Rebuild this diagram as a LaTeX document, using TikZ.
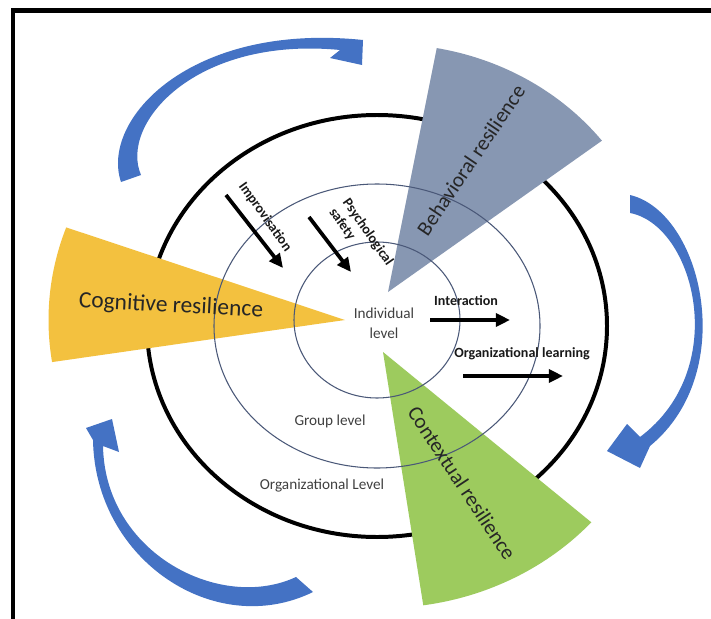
\documentclass[tikz,border=0pt]{standalone}
\usepackage{fontspec}
\setmainfont{Carlito}
\usetikzlibrary{arrows.meta, positioning, calc}
\definecolor{cogfill}{HTML}{F3C13F}
\definecolor{behfill}{HTML}{8797B2}
\definecolor{ctxfill}{HTML}{9DCB5E}
\definecolor{loopblue}{HTML}{4472C4}
\definecolor{ringline}{HTML}{4A5878}
\definecolor{labeltext}{HTML}{404040}
\tikzset{
  wedgelabel/.style={font=\fontsize{18}{20}\selectfont, text=black!85, inner sep=0pt},
  levellabel/.style={font=\fontsize{13}{17}\selectfont, text=labeltext, align=center, inner sep=0pt},
  flowlabel/.style={font=\bfseries\fontsize{12}{14}\selectfont, text=black!90, inner sep=0pt},
  outerring/.style={draw=black, line width=3.4pt},
  innerring/.style={draw=ringline, line width=0.9pt},
  flowline/.style={draw=black, line width=3.2pt, -{Triangle[length=12pt, width=11pt]}},
  loopshape/.style={fill=loopblue, draw=none},
  framebar/.style={draw=black, line width=4pt, line join=miter}
}
\begin{document}
\begin{tikzpicture}[x=0.03cm, y=-0.03cm]
  \useasboundingbox[fill=white] (0,0) rectangle (711,618);

  % Frame
  \draw[framebar] (13,630) -- (13,10.5) -- (720,10.5);

  % Organizational ring
  \coordinate (ctr) at (377,326);
  \draw[outerring] (ctr) ellipse [x radius=230, y radius=211];

  % Resilience wedges
  \coordinate (cogapex) at (345,320);
  \coordinate (behapex) at (388,292);
  \coordinate (ctxapex) at (383,352);
  \fill[cogfill] (cogapex) -- ++(-160.1:296.5 and 272)
    arc[start angle=-160.1, end angle=-188.9, x radius=296.5, y radius=272] -- cycle;
  \fill[behfill] (behapex) -- ++(-79.6:270 and 248)
    arc[start angle=-79.6, end angle=-37.6, x radius=270, y radius=248] -- cycle;
  \fill[ctxfill] (ctxapex) -- ++(41.7:279 and 256)
    arc[start angle=41.7, end angle=81.7, x radius=279, y radius=256] -- cycle;

  % Group and individual rings
  \draw[innerring] (377,326) ellipse [x radius=163, y radius=142];
  \draw[innerring] (377,320) ellipse [x radius=83, y radius=78];

  % Loop arrows
  \fill[loopshape] (121,182) .. controls (100,120) and (190,22) .. (363,40)
    -- (362,65) -- (330,58) -- (340,50)
    .. controls (195,36) and (119,124) .. (141,175) -- cycle;
  \fill[loopshape] (630,195) .. controls (702,212) and (740,372) .. (650,446)
    -- (640,468) -- (607,451) -- (627,424) -- (640,437)
    .. controls (732,368) and (694,225) .. (630,213) -- cycle;
  \fill[loopshape] (313,592) .. controls (215,640) and (95,560) .. (93,440)
    -- (86,428) -- (112,419) -- (119,452) -- (103,446)
    .. controls (105,554) and (221,612) .. (296,577) -- cycle;

  % Wedge labels
  \node[wedgelabel, font=\fontsize{20}{22}\selectfont, rotate=-3] (cogn) at (171,306) {Cognitive resilience};
  \node[wedgelabel, rotate=56] (behav) at (471,160) {Behavioral resilience};
  \node[wedgelabel, rotate=-56.6] (ctx) at (462,483) {Contextual resilience};

  % Level labels
  \node[levellabel] (indiv) at (384,323) {Individual\\level};
  \node[levellabel] (group) at (330,421) {Group level};
  \node[levellabel] (orglevel) at (322,486) {Organizational Level};

  % Flow labels and arrows
  \node[flowlabel, rotate=-54.5] (improv) at (265,217) {Improvisation};
  \node[flowlabel, rotate=-55, align=left] (psych) at (361,237) {Psychological\\safety};
  \node[flowlabel] (interact) at (466,301) {Interaction};
  \node[flowlabel] (orglearn) at (522,354) {Organizational learning};

  \coordinate (improvtail) at (226,195);
  \coordinate (improvhead) at (283,268);
  \coordinate (psychtail) at (309,217);
  \coordinate (psychhead) at (351,272);
  \coordinate (interacttail) at (430,320);
  \coordinate (interacthead) at (510,320);
  \coordinate (orglearntail) at (463,376);
  \coordinate (orglearnhead) at (563,376);
  \draw[flowline] (improvtail) -- (improvhead);
  \draw[flowline] (psychtail) -- (psychhead);
  \draw[flowline] (interacttail) -- (interacthead);
  \draw[flowline] (orglearntail) -- (orglearnhead);

\end{tikzpicture}
\end{document}
